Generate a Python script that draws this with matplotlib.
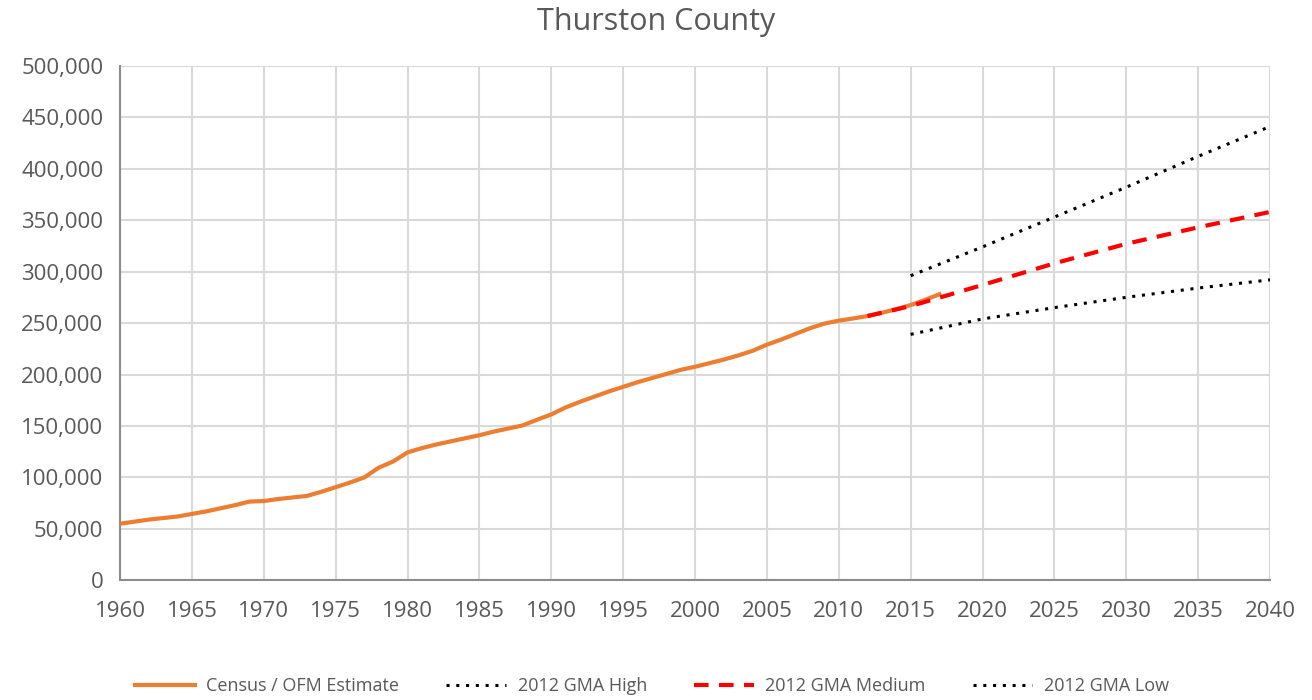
import matplotlib.pyplot as plt
from matplotlib.ticker import FuncFormatter

# Census / OFM estimates
census_years = list(range(1960, 2018))
census_pop = [55000, 57000, 59000, 60500, 62000, 64500, 67000, 70000, 73000, 76500,
              77000, 79000, 80500, 82000, 86000, 90500, 95000, 100000, 109500, 115500,
              124300, 128500, 132000, 135000, 138000, 141000, 144500, 147500, 150500, 156000,
              161200, 168000, 173500, 178500, 183500, 188000, 192500, 196500, 200500, 204500,
              207500, 211000, 214500, 218500, 223000, 229000, 234000, 239500, 245000, 249500,
              252300, 254500, 256800, 260000, 263500, 267500, 272500, 278000]

# 2012 GMA projections
proj_years = [2015, 2020, 2025, 2030, 2035, 2040]
high_pop = [296000, 324000, 353000, 382000, 412000, 441000]
low_pop = [239000, 254000, 265000, 275000, 284000, 292000]
med_years = [2012, 2015, 2020, 2025, 2030, 2035, 2040]
med_pop = [256800, 266500, 287000, 308000, 327000, 343000, 358000]

TEXT = "#595959"
plt.rcParams["font.family"] = ["Open Sans", "DejaVu Sans"]

fig = plt.figure(figsize=(13.12, 7.0), dpi=100)
ax = fig.add_axes([0.0915, 0.171, 0.8765, 0.735])

ax.plot(census_years, census_pop, color="#ED7D31", lw=3, label="Census / OFM Estimate", zorder=3)
ax.plot(proj_years, high_pop, color="black", lw=2.2, linestyle=(0, (1, 2.2)),
        label="2012 GMA High", zorder=4)
ax.plot(med_years, med_pop, color="#FF0000", lw=3, linestyle=(0, (3.5, 2.5)),
        label="2012 GMA Medium", zorder=4)
ax.plot(proj_years, low_pop, color="black", lw=2.2, linestyle=(0, (1, 2.2)),
        label="2012 GMA Low", zorder=4)

ax.set_xlim(1960, 2040)
ax.set_ylim(0, 500000)
ax.set_xticks(range(1960, 2041, 5))
ax.set_yticks(range(0, 500001, 50000))
ax.yaxis.set_major_formatter(FuncFormatter(lambda v, p: f"{int(v):,}"))
ax.tick_params(length=0, labelsize=16, labelcolor=TEXT)
ax.tick_params(axis="y", pad=12)
ax.tick_params(axis="x", pad=15)

ax.grid(True, color="#D9D9D9", lw=1.5)
ax.set_axisbelow(True)
for s in ["top", "right"]:
    ax.spines[s].set_visible(False)
for s in ["left", "bottom"]:
    ax.spines[s].set_color("#8C8C8C")
    ax.spines[s].set_linewidth(1.5)

fig.text(0.5, 0.968, "Thurston County", ha="center", va="center", fontsize=22, color=TEXT)

leg = fig.legend(loc="center", bbox_to_anchor=(0.497, 0.02), ncol=4, frameon=False,
                 prop={"size": 13}, handlelength=3.3, columnspacing=2.6,
                 handletextpad=0.65)
for t in leg.get_texts():
    t.set_color(TEXT)

fig.savefig("out.png", dpi=100)
